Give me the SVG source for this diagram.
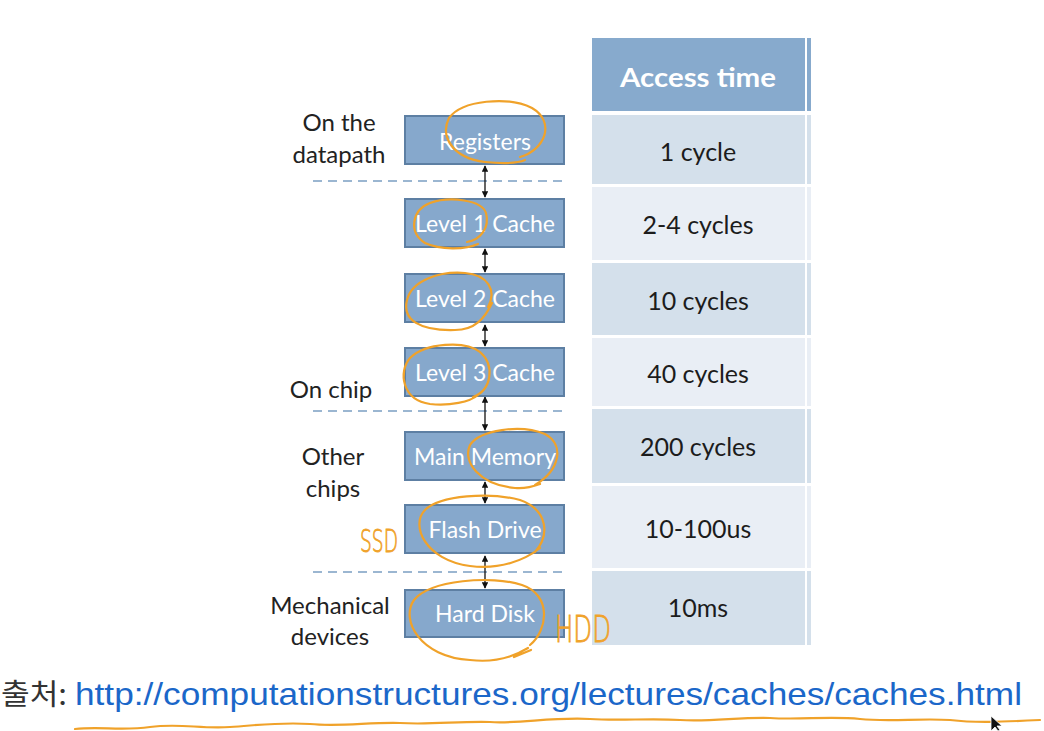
<svg xmlns="http://www.w3.org/2000/svg" width="1044" height="731" viewBox="0 0 1044 731">
<style>
.box{fill:#86a8cc;stroke:#5d7fa3;stroke-width:2}
.bt{font-family:Lato,"Open Sans",sans-serif;font-size:23px;fill:#ffffff;text-anchor:middle}
.lab{font-family:Lato,"Open Sans",sans-serif;font-size:24px;fill:#222222;text-anchor:middle}
.val{font-family:Lato,"Open Sans",sans-serif;font-size:25px;fill:#1c1c1c;text-anchor:middle}
.dark{fill:#d4e0eb}
.light{fill:#e9eef5}
.dash{stroke:#9bb6d1;stroke-width:2;stroke-dasharray:9 6;fill:none}
.conn{stroke:#111;stroke-width:1.3;fill:none;marker-start:url(#ah);marker-end:url(#ah)}
.ink{stroke:#f0a22a;stroke-width:2.2;fill:none;stroke-linecap:round;stroke-linejoin:round}
.hand{font-family:"DejaVu Sans",sans-serif;fill:#f0a22a;stroke:#f0a22a;stroke-width:0.9;font-weight:200}
</style>
<defs>
<marker id="ah" viewBox="0 0 10 10" refX="9" refY="5" markerWidth="5" markerHeight="5" orient="auto-start-reverse">
<path d="M0,0 L10,5 L0,10 z" fill="#111"/>
</marker>
</defs>
<rect width="1044" height="731" fill="#ffffff"/>

<g id="table">
<rect x="592" y="38" width="213" height="73" fill="#87aacd"/>
<rect x="807" y="38" width="4" height="73" fill="#87aacd"/>
<text x="698" y="87" font-family="Lato,'Open Sans',sans-serif" font-size="27" font-weight="bold" fill="#ffffff" text-anchor="middle" textLength="156" lengthAdjust="spacingAndGlyphs">Access time</text>
<rect class="dark" x="592" y="115" width="213" height="69"/><rect class="dark" x="807" y="115" width="4" height="69"/>
<rect class="light" x="592" y="187" width="213" height="73"/><rect class="light" x="807" y="187" width="4" height="73"/>
<rect class="dark" x="592" y="263" width="213" height="72"/><rect class="dark" x="807" y="263" width="4" height="72"/>
<rect class="light" x="592" y="338" width="213" height="68"/><rect class="light" x="807" y="338" width="4" height="68"/>
<rect class="dark" x="592" y="409" width="213" height="74"/><rect class="dark" x="807" y="409" width="4" height="74"/>
<rect class="light" x="592" y="486" width="213" height="82"/><rect class="light" x="807" y="486" width="4" height="82"/>
<rect class="dark" x="592" y="571" width="213" height="74"/><rect class="dark" x="807" y="571" width="4" height="74"/>
<text class="val" x="698" y="161">1 cycle</text>
<text class="val" x="698" y="234">2-4 cycles</text>
<text class="val" x="698" y="310">10 cycles</text>
<text class="val" x="698" y="383">40 cycles</text>
<text class="val" x="698" y="456">200 cycles</text>
<text class="val" x="698" y="538">10-100us</text>
<text class="val" x="698" y="617">10ms</text>
</g>

<g id="separators">
<line class="dash" x1="313" y1="181" x2="565" y2="181"/>
<line class="dash" x1="313" y1="411" x2="565" y2="411"/>
<line class="dash" x1="313" y1="572" x2="565" y2="572"/>
</g>

<g id="labels">
<text class="lab" x="339" y="131">On the</text>
<text class="lab" x="339" y="163">datapath</text>
<text class="lab" x="331" y="398">On chip</text>
<text class="lab" x="333" y="465">Other</text>
<text class="lab" x="333" y="497">chips</text>
<text class="lab" x="330" y="614">Mechanical</text>
<text class="lab" x="330" y="645">devices</text>
</g>

<g id="connectors">
<line class="conn" x1="485" y1="166" x2="485" y2="197"/>
<line class="conn" x1="485" y1="249" x2="485" y2="272"/>
<line class="conn" x1="485" y1="325" x2="485" y2="346"/>
<line class="conn" x1="485" y1="397" x2="485" y2="430"/>
<line class="conn" x1="485" y1="482" x2="485" y2="503"/>
<line class="conn" x1="485" y1="556" x2="485" y2="588"/>
</g>

<g id="registers"><rect class="box" x="405" y="116" width="159" height="48"/><text class="bt" x="485" y="150">Registers</text></g>
<g id="l1"><rect class="box" x="405" y="199" width="159" height="48"/><text class="bt" x="485" y="232">Level 1 Cache</text></g>
<g id="l2"><rect class="box" x="405" y="274" width="159" height="48"/><text class="bt" x="485" y="307">Level 2 Cache</text></g>
<g id="l3"><rect class="box" x="405" y="348" width="159" height="48"/><text class="bt" x="485" y="381">Level 3 Cache</text></g>
<g id="mainmem"><rect class="box" x="405" y="432" width="159" height="48"/><text class="bt" x="485" y="465">Main Memory</text></g>
<g id="flash"><rect class="box" x="405" y="505" width="159" height="48"/><text class="bt" x="485" y="538">Flash Drive</text></g>
<g id="hdd"><rect class="box" x="405" y="590" width="159" height="47"/><text class="bt" x="485" y="622">Hard Disk</text></g>

<g id="annotations">
<path class="ink" d="M520 157 C545 150,556 122,532 108 C508 96,462 100,449 118 C440 136,452 158,485 162 C505 164,518 163,525 160"/>
<path class="ink" d="M467 242 C480 240,490 228,486 213 C482 200,450 196,430 203 C412 210,408 232,425 243 C440 250,465 250,478 244"/>
<path class="ink" d="M488 307 C497 290,488 275,465 273 C440 271,412 280,407 300 C402 320,420 331,455 330 C475 330,485 318,492 303"/>
<path class="ink" d="M473 397 C492 390,495 365,480 352 C465 340,425 343,410 358 C398 372,402 400,430 404 C450 406,470 402,478 395"/>
<path class="ink" d="M535 485 C560 470,565 445,545 434 C520 424,480 430,470 445 C462 462,480 485,515 488 C525 489,532 487,540 484"/>
<path class="ink" d="M535 552 C550 535,548 510,520 500 C490 492,440 495,425 510 C410 525,425 560,470 566 C500 570,525 560,540 548"/>
<path class="ink" d="M530 645 C548 630,552 595,522 585 C492 575,430 580,414 600 C400 620,420 657,470 660 C495 663,515 656,528 648 M514 657 L531 650"/>
<text class="hand" x="360" y="552" font-size="32" textLength="38" lengthAdjust="spacingAndGlyphs">SSD</text>
<text class="hand" x="555" y="642" font-size="38" textLength="56" lengthAdjust="spacingAndGlyphs">HDD</text>
<path class="ink" d="M75 729 C100 726,120 731,150 727 C180 723,200 729,230 727 C260 725,280 722,310 724 C340 727,370 722,400 723 C430 725,460 721,490 722 C520 724,550 717,590 719 C620 721,650 718,680 720 C710 722,740 717,770 718 C800 720,830 716,860 719 C890 722,920 718,950 720 C975 723,1000 722,1040 720"/>
</g>

<g id="source">
<text x="1" y="705" font-family="'Noto Sans CJK KR',sans-serif" font-size="29" fill="#333333" textLength="66" lengthAdjust="spacingAndGlyphs">출처:</text>
<text x="75" y="705" font-family="'Liberation Sans',Arial,sans-serif" font-size="32" fill="#1b67c9" textLength="947" lengthAdjust="spacingAndGlyphs">http://computationstructures.org/lectures/caches/caches.html</text>
</g>
<path d="M991 716 L991 731 L995 727 L998 731 L1000 730 L997 726 L1002 726 Z" fill="#111" stroke="#fff" stroke-width="0.8"/>
</svg>
